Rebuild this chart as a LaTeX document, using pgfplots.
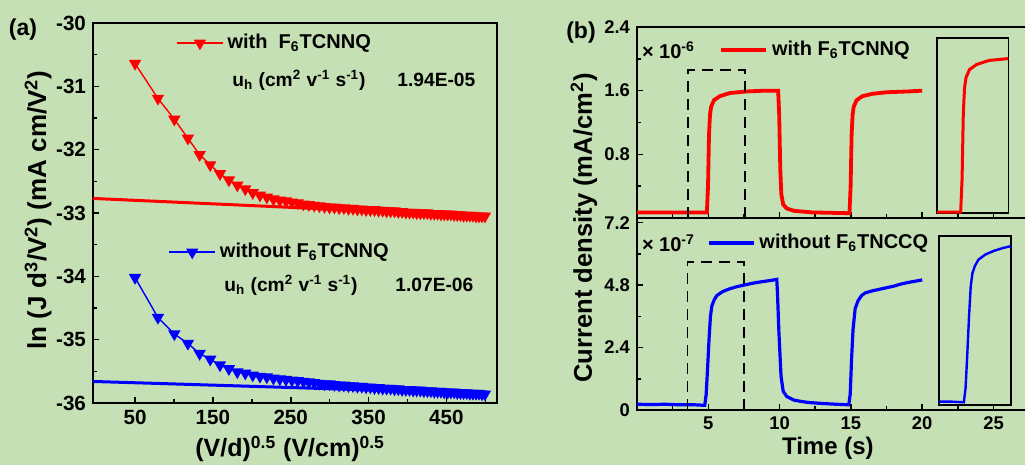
\documentclass[border=0pt]{standalone}
\usepackage{fontspec}
\setmainfont{Liberation Sans}
\usepackage{pgfplots}
\usepackage{pgfplotstable}
\pgfplotsset{compat=1.18}
\definecolor{bgc}{RGB}{197,224,180}
\definecolor{pred}{RGB}{255,0,0}
\definecolor{pblue}{RGB}{0,0,255}

% (a) SCLC data: x = (V/d)^0.5, ln(J d^3/V^2)
\pgfplotstableread{
x red blue
50.0 -30.64 -34.02
79.4 -31.19 -34.65
100.5 -31.52 -34.91
117.9 -31.82 -35.06
133.0 -32.08 -35.22
146.6 -32.24 -35.31
159.1 -32.38 -35.40
170.6 -32.48 -35.46
181.4 -32.56 -35.51
191.6 -32.62 -35.53
201.2 -32.68 -35.56
210.5 -32.72 -35.58
219.3 -32.75 -35.59
227.8 -32.78 -35.61
236.0 -32.80 -35.62
243.9 -32.81 -35.63
251.6 -32.83 -35.64
259.0 -32.84 -35.65
266.3 -32.86 -35.66
273.3 -32.87 -35.67
280.2 -32.88 -35.68
286.9 -32.89 -35.69
293.4 -32.90 -35.70
299.8 -32.91 -35.70
306.1 -32.91 -35.71
312.2 -32.92 -35.72
318.3 -32.92 -35.72
324.2 -32.93 -35.73
330.0 -32.93 -35.73
335.7 -32.94 -35.74
341.3 -32.94 -35.74
346.8 -32.95 -35.75
352.3 -32.95 -35.75
357.6 -32.95 -35.76
362.9 -32.96 -35.76
368.1 -32.96 -35.77
373.2 -32.97 -35.77
378.3 -32.97 -35.77
383.3 -32.97 -35.78
388.2 -32.98 -35.78
393.1 -32.98 -35.79
397.9 -32.99 -35.79
402.6 -32.99 -35.79
407.3 -32.99 -35.80
411.9 -33.00 -35.80
416.5 -33.00 -35.80
421.1 -33.00 -35.81
425.6 -33.00 -35.81
430.0 -33.01 -35.81
434.4 -33.01 -35.82
438.7 -33.01 -35.82
443.1 -33.02 -35.82
447.3 -33.02 -35.83
451.6 -33.02 -35.83
455.7 -33.02 -35.83
459.9 -33.03 -35.83
464.0 -33.03 -35.84
468.1 -33.03 -35.84
472.1 -33.04 -35.84
476.1 -33.04 -35.84
480.1 -33.04 -35.85
484.0 -33.04 -35.85
488.0 -33.05 -35.85
491.8 -33.05 -35.85
495.7 -33.05 -35.86
499.5 -33.05 -35.86
}\scl

% (b) photocurrent, with F6TCNNQ (x 1e-6)
\pgfplotstableread{
t j
0 0.07
2 0.07
4 0.07
4.9 0.07
4.98 0.40
5.05 1.05
5.12 1.30
5.2 1.40
5.4 1.48
5.8 1.53
6.5 1.57
7.7 1.59
9 1.60
9.9 1.60
9.97 1.30
10.05 0.60
10.12 0.30
10.25 0.17
10.5 0.12
11 0.09
12.3 0.07
14.9 0.06
14.98 0.40
15.05 1.05
15.12 1.30
15.2 1.40
15.4 1.48
15.8 1.53
16.5 1.56
17.5 1.58
19 1.59
20 1.60
}\pcred

% (b) photocurrent, without F6TCNNQ (x 1e-7)
\pgfplotstableread{
t j
0 0.22
1 0.21
2 0.22
3 0.20
4 0.20
4.75 0.18
4.85 0.60
4.95 1.60
5.05 2.70
5.15 3.60
5.25 4.00
5.4 4.22
5.6 4.40
6.0 4.55
6.5 4.66
7.0 4.74
7.5 4.80
8.0 4.86
8.5 4.91
9.0 4.95
9.5 4.99
9.8 5.02
9.85 4.50
9.95 3.00
10.1 1.30
10.25 0.72
10.5 0.52
11.0 0.38
11.5 0.33
12 0.29
13 0.25
14 0.22
14.85 0.20
14.95 0.60
15.05 2.00
15.15 3.10
15.3 3.90
15.5 4.20
15.75 4.40
16 4.50
16.5 4.58
17 4.64
17.5 4.70
18 4.76
18.5 4.84
19 4.90
19.5 4.95
20 5.00
}\pcblue

\tikzset{lab/.style={font=\bfseries\fontsize{#1}{15}\selectfont}}
\pgfplotsset{
  base/.style={scale only axis, anchor=south west,
    axis line style={line width=1pt},
    tick align=inside, tick pos=left,
    major tick length=3.2pt, minor tick length=2pt,
    every tick/.style={black, line width=0.8pt},
    /pgf/number format/assume math mode=true,
    legend cell align=left},
  leg/.style={draw=none, fill=none, inner sep=0pt, row sep=0pt,
    font=\bfseries\fontsize{10}{12}\selectfont},
  inset/.style={scale only axis, anchor=south west, xtick=\empty, ytick=\empty,
    axis line style={line width=0.9pt}},
}

\begin{document}
\begin{tikzpicture}[font=\bfseries]
\fill[bgc] (0,0) rectangle (512.5pt,232.5pt);

% ---------- (a) ----------
\begin{axis}[base, at={(46.5pt,31pt)}, width=202pt, height=190pt,
  xmin=-4, xmax=515, ymin=-36, ymax=-30,
  tick label style={font=\bfseries\fontsize{10.3}{12}\selectfont},
  xtick={50,150,250,350,450}, minor xtick={100,200,300,400,500},
  ytick={-36,-35,-34,-33,-32,-31,-30},
  yticklabels={-36,-35,-34,-33,-32,-31,-30},
  minor ytick={-35.5,-34.5,-33.5,-32.5,-31.5,-30.5},
  xlabel={(V/d)\textsuperscript{0.5} (V/cm)\textsuperscript{0.5}},
  ylabel={ln (J d\textsuperscript{3}/V\textsuperscript{2}) (mA cm/V\textsuperscript{2})},
  every axis x label/.style={at={(axis description cs:0.488,-0.121)}, anchor=center, lab=12.5},
  every axis y label/.style={at={(axis description cs:-0.136,0.508)}, rotate=90, anchor=center, lab=13},
  legend style={leg, at={(axis description cs:0.205,0.947)}, anchor=west},
  legend image code/.code={\draw[#1, mark repeat=2, mark phase=2] plot coordinates {(0pt,0pt) (11.5pt,0pt) (23pt,0pt)};},
]
\addplot[pred, line width=1.5pt, forget plot] coordinates {(-4,-32.77) (500,-33.05)};
\addplot[pred, line width=0.7pt, mark=triangle*, mark size=2.9pt, mark options={rotate=180}] table[x=x, y=red] {\scl};
\legend{with\ \ F\textsubscript{6}TCNNQ}
\end{axis}
\begin{axis}[base, at={(46.5pt,31pt)}, width=202pt, height=190pt,
  xmin=-4, xmax=515, ymin=-36, ymax=-30, hide axis,
  legend style={leg, at={(axis description cs:0.186,0.397)}, anchor=west},
  legend image code/.code={\draw[#1, mark repeat=2, mark phase=2] plot coordinates {(0pt,0pt) (11.5pt,0pt) (23pt,0pt)};},
]
\addplot[pblue, line width=1.5pt, forget plot] coordinates {(-4,-35.66) (500,-35.85)};
\addplot[pblue, line width=0.7pt, mark=triangle*, mark size=2.9pt, mark options={rotate=180}] table[x=x, y=blue] {\scl};
\legend{without F\textsubscript{6}TCNNQ}
\end{axis}
\begin{scope}[every node/.style={anchor=west, inner sep=0pt, font=\bfseries\fontsize{9.6}{12}\selectfont}]
\node at (116pt,192.5pt) {u\textsubscript{h} (cm\textsuperscript{2} v\textsuperscript{-1} s\textsuperscript{-1})};
\node at (198.5pt,192.5pt) {1.94E-05};
\node at (112pt,90pt) {u\textsubscript{h} (cm\textsuperscript{2} v\textsuperscript{-1} s\textsuperscript{-1})};
\node at (197.5pt,90pt) {1.07E-06};
\end{scope}
\node[lab=11.5] at (11.5pt,217.5pt) {(a)};

% ---------- (b) upper ----------
\begin{axis}[base, at={(318.5pt,123.5pt)}, width=199.65pt, height=95.5pt,
  xmin=0, xmax=28, ymin=0, ymax=2.4,
  tick label style={font=\bfseries\fontsize{9.2}{11}\selectfont},
  xtick={5,10,15,20,25}, xticklabels={}, minor xtick={2.5,7.5,12.5,17.5,22.5,27.5},
  ytick={0.8,1.6,2.4}, minor ytick={0.4,1.2,2.0},
  legend style={leg, at={(axis description cs:0.205,0.88)}, anchor=west},
  legend image code/.code={\draw[#1] (0pt,0pt) -- (22.5pt,0pt);},
]
\addplot[pred, line width=1.9pt] table[x=t, y=j] {\pcred};
\addplot[black, line width=0.8pt, dash pattern=on 5.5pt off 3.5pt, forget plot] coordinates {(3.58,0) (3.58,1.86) (7.57,1.86) (7.57,0) (3.58,0)};
\legend{with F\textsubscript{6}TCNNQ}
\end{axis}
\begin{axis}[inset, at={(468.4pt,125.9pt)}, width=35.8pt, height=87.5pt,
  xmin=3.55, xmax=7.6, ymin=0.06, ymax=1.79]
\addplot[pred, line width=1.5pt] table[x=t, y=j] {\pcred};
\end{axis}

% ---------- (b) lower ----------
\begin{axis}[base, at={(318.5pt,27.5pt)}, width=199.65pt, height=96pt,
  xmin=0, xmax=28, ymin=0, ymax=7.38,
  tick label style={font=\bfseries\fontsize{9.2}{11}\selectfont},
  xtick={5,10,15,20,25}, minor xtick={2.5,7.5,12.5,17.5,22.5,27.5},
  ytick={0,2.4,4.8,7.2}, minor ytick={1.2,3.6,6.0},
  xlabel={Time (s)},
  every axis x label/.style={at={(axis description cs:0.478,-0.2)}, anchor=center, lab=12},
  legend style={leg, at={(axis description cs:0.175,0.87)}, anchor=west},
  legend image code/.code={\draw[#1] (0pt,0pt) -- (22.5pt,0pt);},
]
\addplot[pblue, line width=1.6pt] table[x=t, y=j] {\pcblue};
\addplot[black, line width=0.8pt, dash pattern=on 5.5pt off 3.5pt, forget plot] coordinates {(3.53,0) (3.53,5.7) (7.52,5.7) (7.52,0) (3.53,0)};
\legend{without F\textsubscript{6}TNCCQ}
\end{axis}
\begin{axis}[inset, at={(469.5pt,30pt)}, width=36pt, height=84.5pt,
  xmin=3.3, xmax=7.5, ymin=0.1, ymax=5.1]
\addplot[pblue, line width=1.2pt] table[x=t, y=j] {\pcblue};
\end{axis}

\begin{scope}[every node/.style={anchor=west, inner sep=0pt, font=\bfseries\fontsize{10}{12}\selectfont}]
\node at (320.8pt,207.5pt) {× 10\textsuperscript{-6}};
\node at (320.8pt,111pt) {× 10\textsuperscript{-7}};
\end{scope}
\node[rotate=90, lab=12.8] at (292pt,118.5pt) {Current density (mA/cm\textsuperscript{2})};
\node[lab=11.5] at (290.5pt,216pt) {(b)};

\pgfresetboundingbox
\useasboundingbox (0,0) rectangle (512.5pt,232.5pt);
\end{tikzpicture}
\end{document}
